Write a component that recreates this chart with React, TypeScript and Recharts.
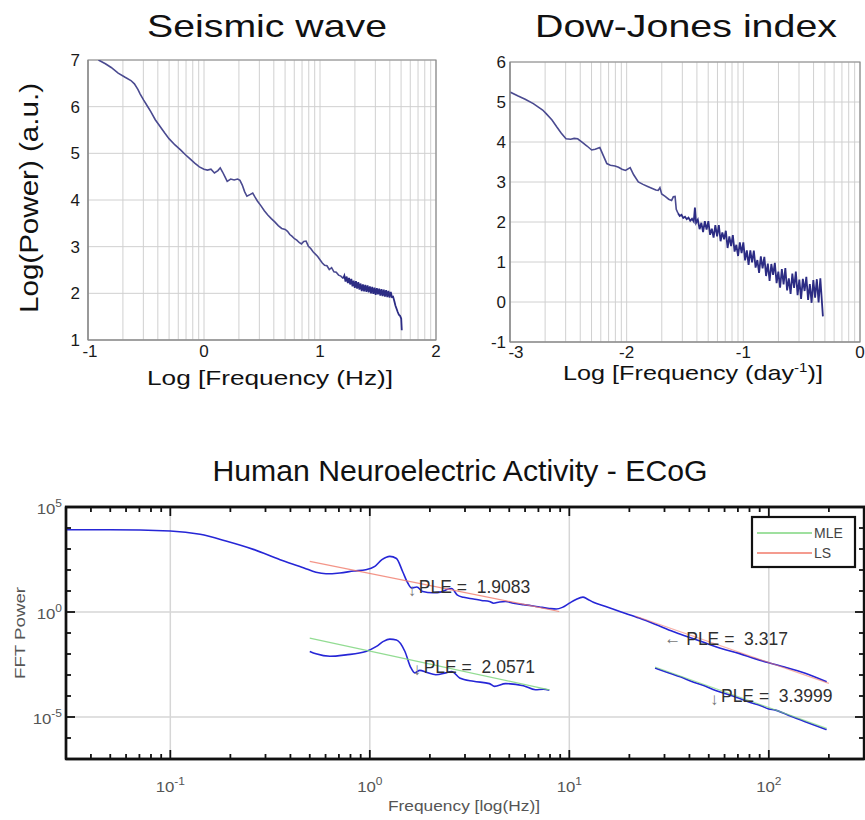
import React from 'react';
import { LineChart, Line, XAxis, YAxis, CartesianGrid, ReferenceLine, ReferenceDot, ReferenceArea } from 'recharts';

const FONT = '"Liberation Sans", Arial, Helvetica, sans-serif';

// ---------------- Panel 1: Seismic wave  [log10 f (Hz), log10 power] ----------------
const seismicSmooth: [number, number][] = [
  [-0.91, 7.0], [-0.85, 6.92], [-0.8, 6.84], [-0.74, 6.72], [-0.68, 6.63], [-0.63, 6.56], [-0.6, 6.49],
  [-0.57, 6.37], [-0.55, 6.27], [-0.52, 6.14], [-0.49, 6.02], [-0.46, 5.9], [-0.42, 5.72], [-0.38, 5.58],
  [-0.34, 5.44], [-0.3, 5.31], [-0.25, 5.18], [-0.2, 5.07], [-0.16, 4.97], [-0.12, 4.88], [-0.08, 4.79],
  [-0.04, 4.71], [0.0, 4.66], [0.03, 4.64], [0.06, 4.66], [0.09, 4.58], [0.12, 4.63], [0.14, 4.69],
  [0.16, 4.6], [0.18, 4.5], [0.2, 4.4], [0.23, 4.45], [0.26, 4.43], [0.29, 4.45], [0.31, 4.42], [0.33, 4.32],
  [0.35, 4.18], [0.37, 4.08], [0.4, 4.12], [0.42, 4.15], [0.44, 4.06], [0.46, 3.98], [0.49, 3.88], [0.52, 3.77],
  [0.55, 3.68], [0.58, 3.6], [0.61, 3.53], [0.64, 3.45], [0.67, 3.39], [0.7, 3.37], [0.72, 3.33], [0.74, 3.26],
  [0.76, 3.22], [0.78, 3.17], [0.8, 3.14], [0.82, 3.09], [0.84, 3.06], [0.86, 3.11], [0.88, 3.12], [0.9, 3.01],
  [0.92, 2.96], [0.94, 2.89], [0.96, 2.84], [0.98, 2.79], [1.0, 2.72], [1.02, 2.65], [1.04, 2.6], [1.06, 2.59],
  [1.08, 2.51], [1.1, 2.55], [1.12, 2.46], [1.14, 2.45], [1.16, 2.39], [1.18, 2.37], [1.2, 2.32],
];
const seismicNoisy: [number, number][] = [
  [1.2, 2.32], [1.21, 2.38], [1.22, 2.25], [1.23, 2.36], [1.24, 2.22], [1.25, 2.33], [1.26, 2.19], [1.27, 2.31],
  [1.28, 2.15], [1.29, 2.27], [1.3, 2.12], [1.31, 2.26], [1.32, 2.1], [1.33, 2.24], [1.34, 2.08], [1.35, 2.21],
  [1.36, 2.05], [1.37, 2.19], [1.38, 2.04], [1.39, 2.18], [1.4, 2.03], [1.41, 2.17], [1.42, 2.02], [1.43, 2.15],
  [1.44, 2.0], [1.45, 2.14], [1.46, 1.99], [1.47, 2.12], [1.48, 1.97], [1.49, 2.11], [1.5, 1.98], [1.51, 2.1],
  [1.52, 1.95], [1.53, 2.09], [1.54, 1.94], [1.55, 2.08], [1.56, 1.93], [1.57, 2.07], [1.58, 1.92], [1.59, 2.05],
  [1.6, 1.91], [1.61, 2.03], [1.62, 1.92], [1.63, 1.93], [1.64, 1.84], [1.65, 1.74], [1.66, 1.67], [1.67, 1.6],
  [1.68, 1.54], [1.69, 1.52], [1.7, 1.46], [1.705, 1.21],
];
const seismicDecades = [-1, 0, 1];
const seismicXDomain: [number, number] = [-1, 2];
const seismicYDomain: [number, number] = [1, 7];
const seismicYTicks = [1, 2, 3, 4, 5, 6, 7];

// ---------------- Panel 2: Dow-Jones index  [log10 f (1/day), log10 power] ----------------
const dowSmooth: [number, number][] = [
  [-3.0, 5.25], [-2.93, 5.15], [-2.87, 5.07], [-2.8, 4.96], [-2.76, 4.88], [-2.72, 4.8], [-2.69, 4.71],
  [-2.64, 4.55], [-2.6, 4.38], [-2.56, 4.22], [-2.52, 4.08], [-2.48, 4.07], [-2.45, 4.09], [-2.42, 4.08],
  [-2.38, 3.99], [-2.34, 3.9], [-2.3, 3.8], [-2.27, 3.82], [-2.23, 3.86], [-2.2, 3.66], [-2.17, 3.46],
  [-2.14, 3.42], [-2.1, 3.4], [-2.07, 3.37], [-2.04, 3.32], [-2.01, 3.29], [-1.97, 3.36], [-1.94, 3.18],
  [-1.9, 3.0], [-1.86, 2.94], [-1.82, 2.89], [-1.78, 2.84], [-1.75, 2.8], [-1.73, 2.79], [-1.715, 2.86],
  [-1.7, 2.7], [-1.67, 2.64], [-1.64, 2.57], [-1.615, 2.54], [-1.6, 2.63], [-1.585, 2.64], [-1.575, 2.32],
  [-1.56, 2.22],
];
const dowNoisy: [number, number][] = [
  [-1.56, 2.22], [-1.545, 2.15], [-1.53, 2.18], [-1.515, 2.1], [-1.5, 2.13], [-1.485, 2.07], [-1.47, 2.11],
  [-1.455, 2.03], [-1.44, 2.08], [-1.425, 2.01], [-1.415, 2.36], [-1.405, 1.98],
  [-1.39, 2.06], [-1.375, 1.82], [-1.36, 1.98], [-1.345, 1.75], [-1.33, 2.02], [-1.315, 1.81], [-1.3, 2.02],
  [-1.285, 1.68], [-1.27, 1.83], [-1.255, 1.61], [-1.24, 1.92], [-1.225, 1.64], [-1.21, 1.92], [-1.195, 1.52],
  [-1.18, 1.74], [-1.165, 1.57], [-1.15, 1.78], [-1.135, 1.35], [-1.12, 1.64], [-1.105, 1.4], [-1.09, 1.67],
  [-1.075, 1.26], [-1.06, 1.43], [-1.045, 1.15], [-1.03, 1.49], [-1.015, 1.22], [-1.0, 1.49], [-0.985, 1.04],
  [-0.97, 1.29], [-0.955, 0.93], [-0.94, 1.29], [-0.925, 0.99], [-0.91, 1.285], [-0.895, 0.86], [-0.88, 1.05],
  [-0.865, 0.73], [-0.85, 1.14], [-0.835, 0.84], [-0.82, 1.13], [-0.805, 0.65], [-0.79, 0.96], [-0.775, 0.53],
  [-0.76, 0.95], [-0.745, 0.68], [-0.73, 0.98], [-0.715, 0.47], [-0.7, 0.76], [-0.685, 0.36], [-0.67, 0.82],
  [-0.655, 0.44], [-0.64, 0.85], [-0.625, 0.29], [-0.61, 0.59], [-0.595, 0.2], [-0.58, 0.71], [-0.565, 0.35],
  [-0.55, 0.76], [-0.535, 0.17], [-0.52, 0.56], [-0.505, 0.08], [-0.49, 0.58], [-0.475, 0.275], [-0.46, 0.63],
  [-0.445, 0.05], [-0.43, 0.45], [-0.415, -0.02], [-0.4, 0.55], [-0.385, 0.11], [-0.37, 0.57], [-0.355, -0.01],
  [-0.34, 0.59], [-0.325, -0.06], [-0.318, -0.36],
];
const dowDecades = [-3, -2, -1];
const dowXDomain: [number, number] = [-3, 0];
const dowYDomain: [number, number] = [-1, 6];
const dowYTicks = [-1, 0, 1, 2, 3, 4, 5, 6];

// ---------------- Panel 3: ECoG  [frequency Hz, log10 FFT power] ----------------
const ecogUpper: [number, number][] = [
  [0.03, 3.92], [0.05, 3.92], [0.1, 3.86], [0.141, 3.7], [0.19, 3.38], [0.263, 2.97], [0.355, 2.49],
  [0.468, 2.1], [0.537, 1.89], [0.603, 1.82], [0.708, 1.86], [0.832, 1.95], [0.955, 2.01], [1.06, 2.17],
  [1.15, 2.49], [1.26, 2.65], [1.36, 2.55], [1.46, 1.93], [1.55, 1.38], [1.62, 1.14], [1.72, 1.19],
  [1.84, 0.98], [2.07, 0.92], [2.29, 0.96], [2.45, 1.08], [2.57, 1.12], [2.75, 0.8], [2.95, 0.7],
  [3.31, 0.62], [3.63, 0.55], [3.98, 0.5], [4.17, 0.42], [4.47, 0.48], [4.79, 0.5], [5.25, 0.42],
  [5.89, 0.35], [6.46, 0.3], [7.08, 0.24], [7.94, 0.17], [8.61, 0.14], [9.23, 0.22], [10.0, 0.42],
  [10.8, 0.6], [11.7, 0.71], [12.3, 0.62], [13.2, 0.46], [15.1, 0.27], [18.2, 0.0], [22.4, -0.29],
  [26.9, -0.58], [33.1, -0.93], [39.8, -1.2], [47.9, -1.47], [58.9, -1.76], [70.8, -1.97], [85.1, -2.22],
  [100, -2.42], [120, -2.62], [151, -2.9], [195, -3.32],
];
const ecogLowerLow: [number, number][] = [
  [0.5, -1.88], [0.537, -1.99], [0.631, -2.11], [0.759, -2.04], [0.955, -1.88], [1.08, -1.64], [1.17, -1.4],
  [1.26, -1.29], [1.36, -1.33], [1.5, -1.88], [1.6, -2.62], [1.68, -2.9], [1.78, -2.78], [1.93, -2.88],
  [2.14, -2.99], [2.4, -2.9], [2.57, -2.83], [2.82, -3.14], [3.31, -3.3], [3.98, -3.41], [4.22, -3.54],
  [4.79, -3.41], [5.89, -3.51], [6.76, -3.7], [7.41, -3.68], [7.94, -3.73],
];
const ecogLowerHigh: [number, number][] = [
  [26.9, -2.67], [31.6, -2.9], [36.3, -3.1], [41.7, -3.33], [47.9, -3.52], [52.5, -3.69], [60.3, -3.88],
  [69.2, -4.07], [79.4, -4.29], [91.2, -4.46], [100, -4.62], [107, -4.66], [126, -4.93], [151, -5.21],
  [195, -5.6],
];
const lsFitLow: [number, number][] = [[0.5, 2.41], [8.9, 0.025]];
const lsFitHigh: [number, number][] = [[21.4, -0.19], [200, -3.4]];
const mleFitLow: [number, number][] = [[0.5, -1.24], [7.94, -3.71]];
const mleFitHigh: [number, number][] = [[26.9, -2.62], [195, -5.54]];
const pleNotes = [
  { f: 1.55, lp: 1.2, arrow: '↓', text: 'PLE =  1.9083' },
  { f: 1.64, lp: -2.58, arrow: '↓', text: 'PLE =  2.0571' },
  { f: 29.9, lp: -1.25, arrow: '←', text: 'PLE =  3.317' },
  { f: 50.7, lp: -3.99, arrow: '↓', text: 'PLE =  3.3999' },
];
const ecogFreqDomain: [number, number] = [0.03, 300];
const ecogPowerDomain: [number, number] = [1e-7, 1e5];
const ecogFreqDecades = [0.01, 0.1, 1, 10, 100];
const ecogFreqGrid = [0.1, 1, 10, 100];
const ecogPowerExps = [-7, -6, -5, -4, -3, -2, -1, 0, 1, 2, 3, 4, 5];
const ecogPowerLabelled = [-5, 0, 5];
const legendItems = [
  { name: 'MLE', color: '#7fd67f' },
  { name: 'LS', color: '#f07a6a' },
];

const SPEC = '#4a4a90';
const SPEC_DARK = '#2c2c84';
const CURVE = '#2626d6';
const LS_COLOR = '#f07a6a';
const MLE_COLOR = '#7fd67f';
const FRAME_COLOR = '#8a8a8a';
const FRAME = { stroke: FRAME_COLOR, strokeWidth: 1.2 };
const BOX_COLOR = '#111';
const BOX = { stroke: BOX_COLOR, strokeWidth: 2.4 };
// ECoG plot box in page pixels (chart placed at top 400; margins below define it)
const ECOG_LEFT = 66;
const ECOG_TOP = 507;
const ECOG_PLOT_W = 798;
const ECOG_PLOT_H = 252;

const minorMultipliers = [1, 2, 3, 4, 5, 6, 7, 8, 9];
const logGridTicks = (decades: number[], end: number) => [
  ...decades.flatMap((d) => minorMultipliers.map((k) => d + Math.log10(k))),
  end,
];
const isInt = (v: number) => Math.abs(v - Math.round(v)) < 1e-6;
const ecogXTicks = ecogFreqDecades
  .flatMap((d) => minorMultipliers.map((k) => k * d))
  .filter((v) => v >= ecogFreqDomain[0] * 0.99999 && v <= ecogFreqDomain[1] * 1.00001);

function IntXTick(props: any) {
  const { x, y, payload, dy, firstValue, firstDx } = props;
  if (!isInt(payload.value)) return <g />;
  const v = Math.round(payload.value);
  const dx = v === firstValue ? firstDx : 0;
  return (
    <text x={x + dx} y={y + dy} textAnchor="middle" fontSize={17} fill="#1a1a1a" fontFamily={FONT}>
      {v}
    </text>
  );
}
function IntYTick(props: any) {
  const { x, y, payload, gap } = props;
  return (
    <text x={x - gap} y={y + 6} textAnchor="end" fontSize={17} fill="#1a1a1a" fontFamily={FONT}>
      {Math.round(payload.value)}
    </text>
  );
}

function EcogLabelTick(props: any) {
  const { x, y, payload, side } = props;
  const e = Math.log10(payload.value);
  if (!isInt(e)) return <g />;
  const exp = Math.round(e);
  if (side === 'bottom') {
    return (
      <g transform={`translate(${x},${y + 33}) scale(1.2,1)`}>
        <text x={0} y={0} textAnchor="middle" fontSize={14} fill="#555" fontFamily={FONT}>
          10<tspan dy={-7} fontSize={10}>{exp}</tspan>
        </text>
      </g>
    );
  }
  if (!ecogPowerLabelled.includes(exp)) return <g />;
  return (
    <g transform={`translate(${x - 4},${y + 7}) scale(1.2,1)`}>
      <text x={0} y={0} textAnchor="end" fontSize={14} fill="#555" fontFamily={FONT}>
        10<tspan dy={-7} fontSize={10}>{exp}</tspan>
      </text>
    </g>
  );
}

function PleLabel(props: any) {
  const { viewBox, text, arrow } = props;
  const cx = viewBox.x + (viewBox.width || 0) / 2;
  const cy = viewBox.y + (viewBox.height || 0) / 2;
  const left = arrow === '←';
  return (
    <g fontFamily={FONT}>
      <text x={cx} y={cy + (left ? 6 : 9)} fontSize={17} fill="#777">{arrow}</text>
      <text x={cx + (left ? 22 : 11)} y={cy + 6.5} fontSize={17.5} fill="#2f2f2f" style={{ whiteSpace: 'pre' }}>
        {text}
      </text>
    </g>
  );
}

function TextOverlay() {
  const common = { fontFamily: FONT, lengthAdjust: 'spacingAndGlyphs' as const };
  return (
    <svg width={865} height={820} style={{ position: 'absolute', left: 0, top: 0, pointerEvents: 'none' }}>
      <text x={267} y={37} textAnchor="middle" fontSize={32} textLength={240} fill="#111" {...common}>Seismic wave</text>
      <text x={686} y={37} textAnchor="middle" fontSize={32} textLength={302} fill="#111" {...common}>Dow-Jones index</text>
      <text transform="translate(37.5,198) rotate(-90)" x={0} y={0} textAnchor="middle" fontSize={26} textLength={230} fill="#111" {...common}>
        Log(Power) (a.u.)
      </text>
      <text x={270} y={385} textAnchor="middle" fontSize={20} textLength={246} fill="#111" {...common}>Log [Frequency (Hz)]</text>
      <g transform="translate(693,380) scale(1.26,1)">
        <text x={0} y={0} textAnchor="middle" fontSize={20} fill="#111" fontFamily={FONT}>
          Log [Frequency (day<tspan dy={-8} fontSize={12}>-1</tspan><tspan dy={8}>)]</tspan>
        </text>
      </g>
      <text x={460} y={481} textAnchor="middle" fontSize={29} textLength={495} fill="#111" {...common}>
        Human Neuroelectric Activity - ECoG
      </text>
      <text transform="translate(25,633) rotate(-90)" x={0} y={0} textAnchor="middle" fontSize={15} textLength={92} fill="#555" {...common}>
        FFT Power
      </text>
      <text x={464} y={811} textAnchor="middle" fontSize={15} textLength={152} fill="#555" {...common}>Frequency [log(Hz)]</text>
    </svg>
  );
}

// top edge of the ECoG box with its inward minor/major tick marks
function EcogTopEdge() {
  const span = Math.log10(ecogFreqDomain[1] / ecogFreqDomain[0]);
  const xOf = (v: number) => ECOG_LEFT + (Math.log10(v / ecogFreqDomain[0]) / span) * ECOG_PLOT_W;
  return (
    <svg width={865} height={820} style={{ position: 'absolute', left: 0, top: 0, pointerEvents: 'none' }}>
      <line x1={ECOG_LEFT - 1} y1={ECOG_TOP} x2={ECOG_LEFT + ECOG_PLOT_W + 1} y2={ECOG_TOP} stroke={BOX_COLOR} strokeWidth={2.4} />
      {ecogXTicks.map((v) => {
        const len = isInt(Math.log10(v)) ? 9 : 5;
        const x = xOf(v);
        return <line key={v} x1={x} y1={ECOG_TOP} x2={x} y2={ECOG_TOP + len} stroke={BOX_COLOR} strokeWidth={1.8} />;
      })}
    </svg>
  );
}

function LegendBox() {
  return (
    <svg width={110} height={60} style={{ position: 'absolute', left: 749, top: 514, pointerEvents: 'none' }}>
      <rect x={3} y={3} width={103} height={50} fill="#fff" stroke="#111" strokeWidth={2.2} />
      {legendItems.map((it, i) => (
        <g key={it.name}>
          <line x1={8} y1={19 + i * 20} x2={63} y2={19 + i * 20} stroke={it.color} strokeWidth={1.3} />
          <text x={65} y={24 + i * 20} fontSize={14} fill="#444" fontFamily={FONT}>{it.name}</text>
        </g>
      ))}
    </svg>
  );
}

export default function App() {
  const xy = (arr: [number, number][]) => arr.map(([x, y]) => ({ x, y }));
  const toP = (arr: [number, number][]) => arr.map(([f, lp]) => ({ f, p: Math.pow(10, lp) }));
  const seismicXTicks = logGridTicks(seismicDecades, seismicXDomain[1]);
  const dowXTicks = logGridTicks(dowDecades, dowXDomain[1]);
  const ecogYTicks = ecogPowerExps.map((e) => Math.pow(10, e));
  const ecogPowerGrid = ecogPowerLabelled.map((e) => Math.pow(10, e));

  const xDecadesPerPx = Math.log10(ecogFreqDomain[1] / ecogFreqDomain[0]) / ECOG_PLOT_W;
  const yDecadesPerPx = Math.log10(ecogPowerDomain[1] / ecogPowerDomain[0]) / ECOG_PLOT_H;
  const [fMin, fMax] = ecogFreqDomain;
  const [pMin, pMax] = ecogPowerDomain;
  const tickSegs: { key: string; seg: any }[] = [];
  ecogXTicks.forEach((v) => {
    const len = isInt(Math.log10(v)) ? 9 : 5;
    const k = Math.pow(10, len * yDecadesPerPx);
    tickSegs.push({ key: `xb${v}`, seg: [{ x: v, y: pMin }, { x: v, y: pMin * k }] });
  });
  ecogYTicks.forEach((v) => {
    const len = ecogPowerLabelled.includes(Math.round(Math.log10(v))) ? 9 : 5;
    const k = Math.pow(10, len * xDecadesPerPx);
    tickSegs.push({ key: `yl${v}`, seg: [{ x: fMin, y: v }, { x: fMin * k, y: v }] });
    tickSegs.push({ key: `yr${v}`, seg: [{ x: fMax, y: v }, { x: fMax / k, y: v }] });
  });

  const noAnim = { isAnimationActive: false, dot: false, activeDot: false } as any;

  return (
    <div style={{ position: 'absolute', left: 0, top: 0, width: 865, height: 820, background: '#fff', fontFamily: FONT }}>
      <TextOverlay />
      <div style={{ position: 'absolute', left: 0, top: 0 }}>
        <LineChart width={450} height={400} margin={{ top: 60, right: 14, bottom: 10, left: 0 }}>
          <CartesianGrid stroke="#d0d0d0" strokeWidth={1} />
          <XAxis type="number" dataKey="x" domain={seismicXDomain} ticks={seismicXTicks} interval={0} height={50}
            tickSize={0} tickMargin={0} tickLine={false} axisLine={FRAME}
            tick={<IntXTick dy={17} firstValue={-1} firstDx={2} />} allowDataOverflow />
          <YAxis type="number" domain={seismicYDomain} ticks={seismicYTicks} interval={0} width={88}
            tickSize={0} tickMargin={0} tickLine={false} axisLine={FRAME} tick={<IntYTick gap={8} />} allowDataOverflow />
          <ReferenceArea x1={seismicXDomain[0]} x2={seismicXDomain[1]} y1={seismicYDomain[0]} y2={seismicYDomain[1]}
            fill="none" fillOpacity={0} stroke={FRAME_COLOR} strokeWidth={1.2} ifOverflow="visible" />
          <Line data={xy(seismicSmooth)} dataKey="y" type="linear" stroke={SPEC} strokeWidth={1.6} {...noAnim} />
          <Line data={xy(seismicNoisy)} dataKey="y" type="linear" stroke={SPEC_DARK} strokeWidth={1.8} {...noAnim} />
        </LineChart>
      </div>

      <div style={{ position: 'absolute', left: 450, top: 0 }}>
        <LineChart width={415} height={400} margin={{ top: 62, right: 5, bottom: 8, left: 0 }}>
          <CartesianGrid stroke="#d0d0d0" strokeWidth={1} />
          <XAxis type="number" dataKey="x" domain={dowXDomain} ticks={dowXTicks} interval={0} height={50}
            tickSize={0} tickMargin={0} tickLine={false} axisLine={FRAME}
            tick={<IntXTick dy={16} firstValue={-3} firstDx={6} />} allowDataOverflow />
          <YAxis type="number" domain={dowYDomain} ticks={dowYTicks} interval={0} width={60}
            tickSize={0} tickMargin={0} tickLine={false} axisLine={FRAME} tick={<IntYTick gap={4} />} allowDataOverflow />
          <ReferenceArea x1={dowXDomain[0]} x2={dowXDomain[1]} y1={dowYDomain[0]} y2={dowYDomain[1]}
            fill="none" fillOpacity={0} stroke={FRAME_COLOR} strokeWidth={1.2} ifOverflow="visible" />
          <Line data={xy(dowSmooth)} dataKey="y" type="linear" stroke={SPEC} strokeWidth={1.6} {...noAnim} />
          <Line data={xy(dowNoisy)} dataKey="y" type="linear" stroke={SPEC_DARK} strokeWidth={1.8} {...noAnim} />
        </LineChart>
      </div>

      <div style={{ position: 'absolute', left: 0, top: 400 }}>
        <LineChart width={865} height={420} margin={{ top: ECOG_TOP - 400, right: 1, bottom: 16, left: 0 }}>
          {ecogFreqGrid.map((v) => (
            <ReferenceLine key={`gx${v}`} x={v} stroke="#d6d6d6" strokeWidth={1.5} />
          ))}
          {ecogPowerGrid.map((v) => (
            <ReferenceLine key={`gy${v}`} y={v} stroke="#d6d6d6" strokeWidth={1.5} />
          ))}
          <XAxis type="number" dataKey="f" scale="log" domain={ecogFreqDomain} ticks={ecogXTicks} interval={0} height={45}
            tickSize={0} tickMargin={0} tickLine={false} axisLine={BOX} tick={<EcogLabelTick side="bottom" />} allowDataOverflow />
          <YAxis type="number" scale="log" domain={ecogPowerDomain} ticks={ecogYTicks} interval={0} width={ECOG_LEFT}
            tickSize={0} tickMargin={0} tickLine={false} axisLine={BOX} tick={<EcogLabelTick side="left" />} allowDataOverflow />
          <ReferenceArea x1={fMin} x2={fMax} y1={pMin} y2={pMax} fill="none" fillOpacity={0}
            stroke={BOX_COLOR} strokeWidth={2.4} ifOverflow="visible" />
          <Line data={toP(ecogUpper)} dataKey="p" type="monotone" stroke={CURVE} strokeWidth={1.6} {...noAnim} />
          <Line data={toP(ecogLowerLow)} dataKey="p" type="monotone" stroke={CURVE} strokeWidth={1.6} {...noAnim} />
          <Line data={toP(ecogLowerHigh)} dataKey="p" type="monotone" stroke={CURVE} strokeWidth={1.6} {...noAnim} />
          <Line data={toP(lsFitLow)} dataKey="p" type="linear" stroke={LS_COLOR} strokeWidth={1.2} strokeOpacity={0.8} {...noAnim} />
          <Line data={toP(lsFitHigh)} dataKey="p" type="linear" stroke={LS_COLOR} strokeWidth={1.2} strokeOpacity={0.6} {...noAnim} />
          <Line data={toP(mleFitLow)} dataKey="p" type="linear" stroke={MLE_COLOR} strokeWidth={1.2} strokeOpacity={0.85} {...noAnim} />
          <Line data={toP(mleFitHigh)} dataKey="p" type="linear" stroke={MLE_COLOR} strokeWidth={1.2} strokeOpacity={0.7} {...noAnim} />
          {tickSegs.map((t) => (
            <ReferenceLine key={t.key} segment={t.seg} stroke={BOX_COLOR} strokeWidth={1.8} ifOverflow="visible" />
          ))}
          {pleNotes.map((n) => (
            <ReferenceDot key={n.text} x={n.f} y={Math.pow(10, n.lp)} r={1} fill="none" stroke="none"
              label={<PleLabel text={n.text} arrow={n.arrow} />} />
          ))}
        </LineChart>
      </div>

      <EcogTopEdge />
      <LegendBox />
    </div>
  );
}
